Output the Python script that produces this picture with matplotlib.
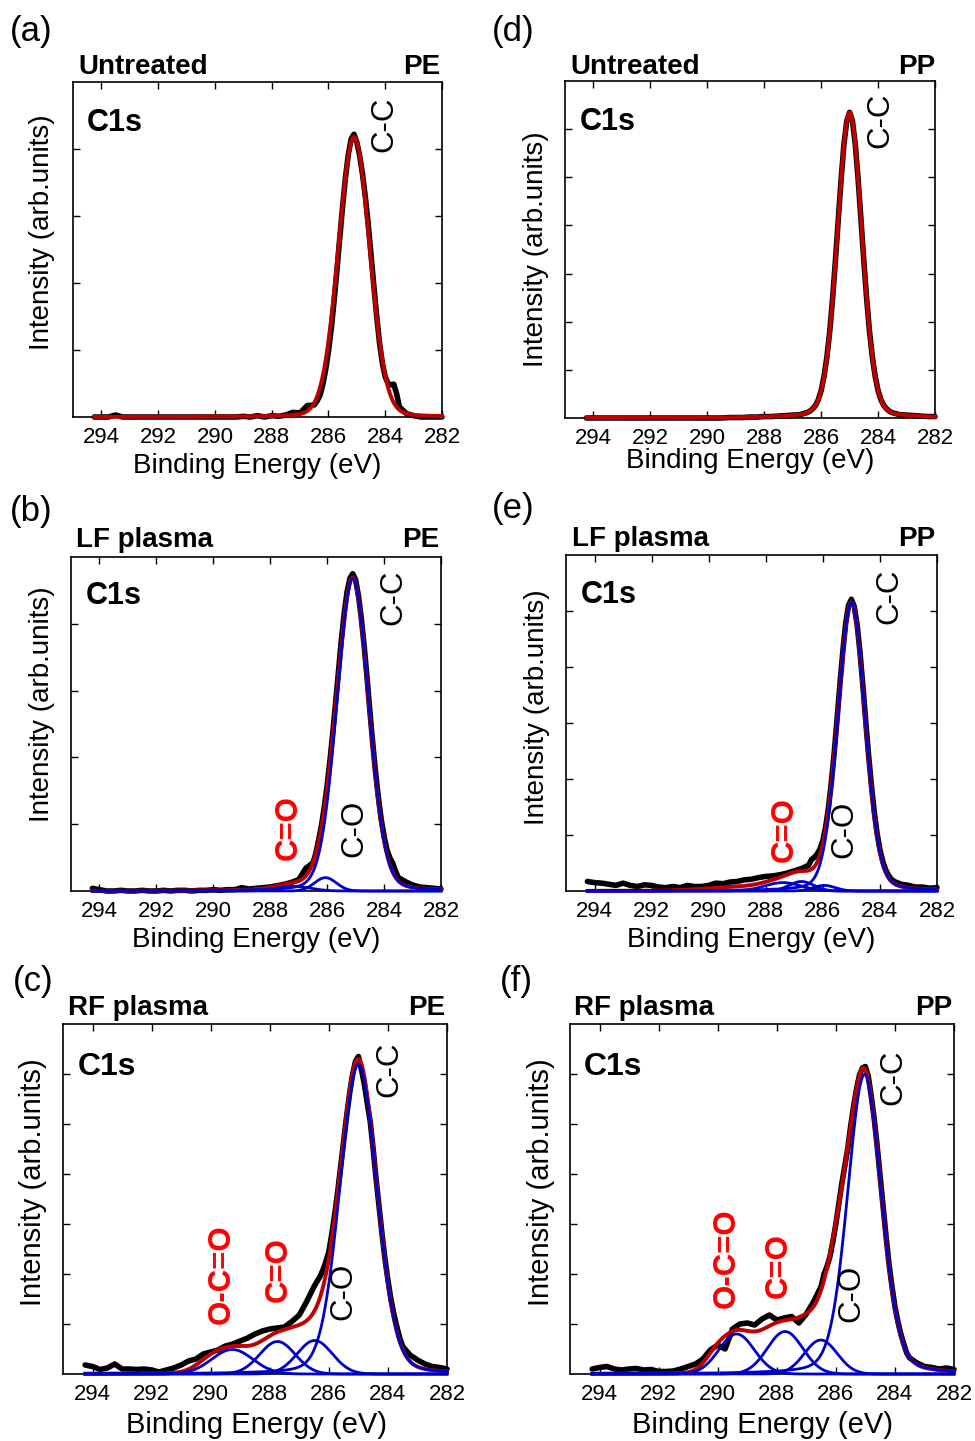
import numpy as np
import matplotlib
matplotlib.use("Agg")
import matplotlib.pyplot as plt

plt.rcParams['font.family'] = ['Liberation Sans', 'DejaVu Sans']

# binding-energy grid of the measured spectra (eV); finer across the main peak
energy = np.round(np.concatenate([
    np.arange(294.25, 286.49, -0.25),
    np.arange(286.4, 283.59, -0.1),
    np.arange(283.5, 281.99, -0.25),
]), 2)

black_a = ([0.0, 0.0, 0.0, 0.03] + [0.0] * 17 +
           [0.01, 0.0, 0.02, 0.0, 0.02, 0.01, 0.03, 0.07, 0.06, 0.17, 0.18] +
           [0.24, 0.32, 0.48, 0.70, 0.98, 1.32, 1.74, 2.20, 2.68, 3.15,
            3.58, 3.92, 4.15, 4.22, 4.10, 3.90, 3.62, 3.28, 2.88, 2.42,
            1.95, 1.50, 1.10, 0.80, 0.60, 0.50, 0.48, 0.49, 0.35] +
           [0.15, 0.05, 0.02, 0.0, 0.0, 0.0, 0.0])
black_b = ([0.04, 0.02, 0.0, 0.0, 0.01, 0.0, 0.0, 0.01, 0.0, 0.0,
            0.01, 0.0, 0.01, 0.01, 0.0, 0.01, 0.01, 0.02, 0.01, 0.02,
            0.02, 0.05, 0.03, 0.04, 0.05, 0.06, 0.08, 0.10, 0.13, 0.17,
            0.34, 0.42] +
           [0.56, 0.76, 0.98, 1.26, 1.58, 1.96, 2.38, 2.83, 3.30, 3.76,
            4.16, 4.48, 4.68, 4.75, 4.66, 4.42, 4.08, 3.67, 3.20, 2.70,
            2.22, 1.78, 1.40, 1.07, 0.82, 0.62, 0.50, 0.42, 0.30] +
           [0.20, 0.14, 0.09, 0.06, 0.05, 0.04, 0.03])
black_c = ([0.18, 0.15, 0.09, 0.12, 0.20, 0.10, 0.10, 0.09, 0.10, 0.08,
            0.04, 0.08, 0.12, 0.18, 0.26, 0.30, 0.40, 0.44, 0.48, 0.56,
            0.60, 0.66, 0.72, 0.80, 0.86, 0.90, 0.92, 0.94, 1.05, 1.18,
            1.45, 1.75] +
           [1.85, 1.95, 2.08, 2.25, 2.45, 2.80, 3.20, 3.65, 4.15, 4.65,
            5.15, 5.60, 5.98, 6.25, 6.35, 6.10, 5.80, 5.42, 5.05, 4.50,
            3.90, 3.35, 2.80, 2.30, 1.88, 1.50, 1.20, 0.95, 0.72] +
           [0.55, 0.38, 0.28, 0.20, 0.15, 0.13, 0.10])
black_d = ([0.0] * 20 +
           [0.01, 0.01, 0.01, 0.02, 0.02, 0.03, 0.03, 0.04, 0.05, 0.06,
            0.07, 0.11] +
           [0.14, 0.19, 0.26, 0.38, 0.57, 0.86, 1.26, 1.79, 2.47, 3.26,
            4.11, 4.95, 5.68, 6.17, 6.35, 6.17, 5.68, 4.95, 4.11, 3.26,
            2.47, 1.79, 1.26, 0.86, 0.57, 0.38, 0.26, 0.19, 0.14] +
           [0.11, 0.07, 0.06, 0.05, 0.04, 0.03, 0.03])
black_e = ([0.17, 0.15, 0.14, 0.12, 0.10, 0.14, 0.10, 0.08, 0.11, 0.10,
            0.07, 0.06, 0.08, 0.06, 0.10, 0.08, 0.08, 0.10, 0.14, 0.13,
            0.16, 0.17, 0.20, 0.21, 0.24, 0.26, 0.27, 0.29, 0.32, 0.36,
            0.40, 0.46] +
           [0.56, 0.60, 0.66, 0.75, 0.90, 1.15, 1.50, 1.95, 2.48, 3.08,
            3.70, 4.28, 4.78, 5.10, 5.21, 5.08, 4.76, 4.27, 3.68, 3.05,
            2.44, 1.90, 1.42, 1.03, 0.74, 0.53, 0.38, 0.28, 0.21] +
           [0.17, 0.12, 0.10, 0.07, 0.07, 0.05, 0.06])
black_f = ([0.10, 0.13, 0.15, 0.10, 0.08, 0.10, 0.11, 0.08, 0.09, 0.05,
            0.05, 0.06, 0.10, 0.15, 0.20, 0.30, 0.48, 0.58, 0.50, 0.90,
            1.00, 1.02, 0.98, 1.10, 1.18, 1.08, 1.12, 1.15, 1.02, 1.20,
            1.45, 1.75] +
           [2.00, 2.15, 2.35, 2.65, 3.00, 3.40, 3.80, 4.15, 4.50, 4.95,
            5.35, 5.70, 5.98, 6.12, 6.15, 5.95, 5.55, 5.10, 4.55, 3.95,
            3.35, 2.75, 2.20, 1.75, 1.35, 1.05, 0.80, 0.60, 0.42] +
           [0.32, 0.22, 0.15, 0.13, 0.10, 0.12, 0.09])

# fitted components: (centre eV, height, FWHM eV, Lorentzian fraction)
peaks_a = [(285.10, 4.18, 1.30, 0.08)]
peaks_d = [(285.00, 6.35, 1.02, 0.15)]
peaks_b = [(285.10, 4.68, 1.32, 0.12), (286.06, 0.20, 0.90, 0.0),
           (287.20, 0.07, 1.40, 0.0)]
peaks_e = [(285.00, 5.15, 1.13, 0.15), (285.95, 0.10, 0.90, 0.0),
           (286.75, 0.17, 1.00, 0.0), (287.40, 0.15, 1.50, 0.0)]
peaks_c = [(285.00, 6.19, 1.48, 0.15), (286.48, 0.67, 1.40, 0.0),
           (287.74, 0.65, 1.41, 0.0), (289.27, 0.49, 1.63, 0.0)]
peaks_f = [(285.03, 5.99, 1.35, 0.20), (286.51, 0.68, 1.30, 0.0),
           (287.72, 0.85, 1.41, 0.0), (289.36, 0.80, 1.41, 0.0)]
# part of the red envelope not shown as a blue component
rest_e = [(289.0, 0.06, 2.5, 0.0)]
rest_c = [(285.0, 0.08, 1.0, 0.0), (287.1, 0.08, 0.8, 0.0), (290.1, 0.10, 1.0, 0.0)]
rest_f = [(285.95, 1.05, 1.0, 0.0), (287.0, 0.15, 0.8, 0.0),
          (288.4, 0.20, 1.0, 0.0), (290.1, 0.15, 0.8, 0.0)]

xticks = [294, 292, 290, 288, 286, 284, 282]

W, H = 975, 1441
fig = plt.figure(figsize=(W / 100, H / 100), dpi=100)


def px(x, y):
    return x / W, 1 - y / H


def profile(e, peaks):
    out = np.zeros_like(e)
    for c, h, w, eta in peaks:
        g = np.exp(-4 * np.log(2) * (e - c) ** 2 / w ** 2)
        l = 1 / (1 + 4 * (e - c) ** 2 / w ** 2)
        out += h * ((1 - eta) * g + eta * l)
    return out


RED = '#C00000'
BLUE = '#0000CC'
e_fit = np.linspace(294.25, 282.0, 700)

# box = (left, top, right, bottom) in pixels
panels = [
    dict(box=(73, 82, 442, 417), ymax=5, black=black_a, peaks=peaks_a, rest=[], blue=False,
         tag=('(a)', 10, 31), title=('Untreated', 78, 'PE', 440, 74), c1s=(87, 131, 22),
         ylab=(42, 232, 20), xlab=(257, 473, 20),
         notes=[('C-C', 384, 124.5, 'k', 'normal')]),
    dict(box=(71, 557, 441, 891), ymax=5, black=black_b, peaks=peaks_b, rest=[], blue=True,
         tag=('(b)', 10, 511), title=('LF plasma', 76, 'PE', 439, 547), c1s=(86, 604, 22),
         ylab=(42, 704, 20), xlab=(256, 947, 20),
         notes=[('C-C', 393, 597.5, 'k', 'normal'), ('C=O', 289, 827.5, '#FF0000', 'bold'),
                ('C-O', 354, 828.5, 'k', 'normal')]),
    dict(box=(63, 1024, 447, 1374), ymax=7, black=black_c, peaks=peaks_c, rest=rest_c, blue=True,
         tag=('(c)', 13, 982), title=('RF plasma', 68, 'PE', 445, 1015), c1s=(78, 1075, 23),
         ylab=(33, 1182, 21), xlab=(256, 1433, 21),
         notes=[('C-C', 389, 1069.5, 'k', 'normal'), ('O-C=O', 222, 1274, '#FF0000', 'bold'),
                ('C=O', 279, 1269.5, '#FF0000', 'bold'), ('C-O', 343, 1291.5, 'k', 'normal')]),
    dict(box=(565, 81, 935, 418), ymax=7, black=black_d, peaks=peaks_d, rest=[], blue=False,
         tag=('(d)', 492, 31), title=('Untreated', 570, 'PP', 935, 74), c1s=(580, 130, 22),
         ylab=(536, 249, 20), xlab=(750, 468, 20),
         notes=[('C-C', 880, 120.5, 'k', 'normal')]),
    dict(box=(566, 555, 937, 891), ymax=6, black=black_e, peaks=peaks_e, rest=rest_e, blue=True,
         tag=('(e)', 492, 509), title=('LF plasma', 572, 'PP', 935, 546), c1s=(581, 603, 22),
         ylab=(537, 707, 20), xlab=(751, 947, 20),
         notes=[('C-C', 889, 596, 'k', 'normal'), ('C=O', 785, 829.5, '#FF0000', 'bold'),
                ('C-O', 844, 829.5, 'k', 'normal')]),
    dict(box=(570, 1024, 954, 1374), ymax=7, black=black_f, peaks=peaks_f, rest=rest_f, blue=True,
         tag=('(f)', 500, 982), title=('RF plasma', 574, 'PP', 952, 1015), c1s=(584, 1075, 23),
         ylab=(541, 1182, 21), xlab=(763, 1433, 21),
         notes=[('C-C', 893, 1077.5, 'k', 'normal'), ('O-C=O', 727, 1258, '#FF0000', 'bold'),
                ('C=O', 779, 1266, '#FF0000', 'bold'), ('C-O', 851, 1293.5, 'k', 'normal')]),
]

for p in panels:
    l, t, r, b = p['box']
    ax = fig.add_axes([l / W, 1 - b / H, (r - l) / W, (b - t) / H])
    ax.plot(energy, p['black'], color='black', lw=4.0, solid_joinstyle='round',
            solid_capstyle='round', clip_on=False, zorder=2)
    ax.plot(e_fit, profile(e_fit, p['peaks'] + p['rest']), color=RED, lw=2.8,
            clip_on=False, zorder=3)
    if p['blue']:
        for pk in p['peaks']:
            ax.plot(e_fit, profile(e_fit, [pk]), color=BLUE, lw=2.0, clip_on=False, zorder=4)

    ax.set_xlim(295, 282)
    ax.set_ylim(0, p['ymax'])
    ax.set_xticks(xticks)
    ax.set_yticks(range(1, p['ymax']))
    ax.set_yticklabels([])
    ax.tick_params(direction='in', top=True, right=True, length=5, width=1,
                   labelsize=16, pad=7.5)
    for s in ax.spines.values():
        s.set_linewidth(1.2)

    name, tx, ty = p['tag']
    fig.text(*px(tx, ty), name, fontsize=25, ha='left', va='center')
    left_t, lx, right_t, rx, by = p['title']
    fig.text(*px(lx, by), left_t, fontsize=20, fontweight='bold', ha='left', va='baseline')
    fig.text(*px(rx, by), right_t, fontsize=20, fontweight='bold', ha='right', va='baseline')
    cx, cy, cs = p['c1s']
    fig.text(*px(cx, cy), 'C1s', fontsize=cs, fontweight='bold', ha='left', va='baseline')
    yx, yy, ys = p['ylab']
    fig.text(*px(yx, yy), 'Intensity (arb.units)', fontsize=ys, rotation=90,
             ha='center', va='center')
    xx, xy, xs = p['xlab']
    fig.text(*px(xx, xy), 'Binding Energy (eV)', fontsize=xs, ha='center', va='baseline')
    for txt, nx, ny, col, wt in p['notes']:
        fig.text(*px(nx, ny), txt, fontsize=22.5, color=col, fontweight=wt, rotation=90,
                 ha='center', va='center')

fig.savefig('out.png', dpi=100)
